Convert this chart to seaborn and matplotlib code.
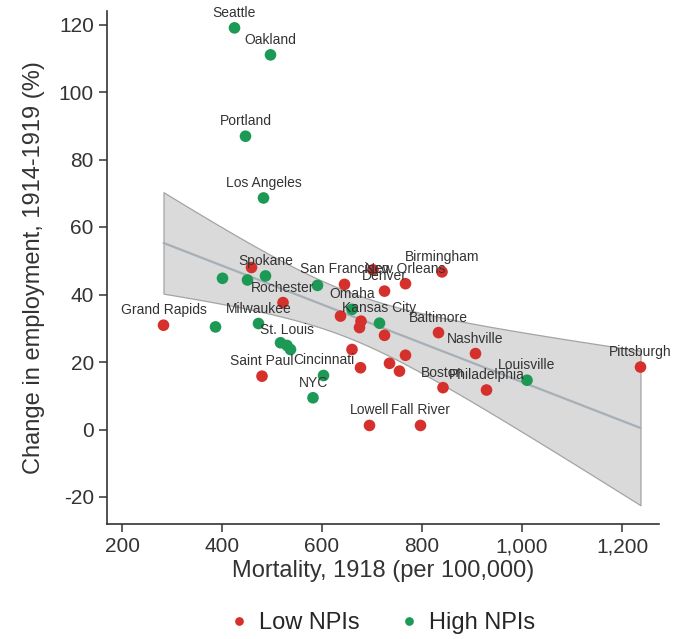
import numpy as np
import pandas as pd
import matplotlib
matplotlib.use("Agg")
import matplotlib.pyplot as plt
import seaborn as sns
from matplotlib.ticker import FuncFormatter

# ---- data ----
cities = [
    "Seattle", "Oakland", "Portland", "Los Angeles", "Spokane", "", "", "",
    "", "Milwaukee", "", "St. Louis", "", "Cincinnati", "NYC", "Omaha",
    "Kansas City", "Louisville",
    "Grand Rapids", "", "Rochester", "Saint Paul", "San Francisco", "",
    "Denver", "New Orleans", "Birmingham", "", "", "", "", "", "", "", "",
    "", "Boston", "Lowell", "Fall River", "Baltimore", "Nashville",
    "Philadelphia", "Pittsburgh",
]
mortality = [
    425, 497, 447, 483, 487, 401, 451, 591,
    387, 473, 517, 530, 537, 603, 582, 660,
    715, 1010,
    283, 459, 522, 480, 645, 702,
    725, 767, 840, 637, 678, 675, 725, 660, 677, 735, 767,
    755, 842, 695, 797, 833, 907,
    929, 1237,
]
emp_change = [
    119, 111, 86.9, 68.6, 45.5, 44.8, 44.3, 42.7,
    30.4, 31.4, 25.7, 24.9, 23.7, 16.0, 9.4, 35.6,
    31.5, 14.6,
    30.9, 48.0, 37.6, 15.8, 43.0, 47.3,
    41.0, 43.2, 46.7, 33.6, 32.1, 30.2, 27.9, 23.7, 18.3, 19.6, 22.0,
    17.3, 12.4, 1.2, 1.2, 28.7, 22.5,
    11.7, 18.5,
]
npi_group = ["High NPIs"] * 18 + ["Low NPIs"] * 25

group_order = ["Low NPIs", "High NPIs"]
x_ticks = [200, 400, 600, 800, 1000, 1200]
y_ticks = [-20, 0, 20, 40, 60, 80, 100, 120]

df = pd.DataFrame({"city": cities, "mortality": mortality,
                   "emp": emp_change, "group": npi_group})

sns.set_theme(style="white")
plt.rcParams["font.family"] = ["Liberation Sans", "DejaVu Sans"]
plt.rcParams["axes.unicode_minus"] = False

W, H = 675, 639
fig = plt.figure(figsize=(W / 100, H / 100), dpi=100)
ax = fig.add_axes([107 / W, 1 - 524 / H, 552 / W, 513 / H])

# OLS fit with analytic 95% confidence band for the mean (like Stata lfitci)
xv = df["mortality"].to_numpy(float)
yv = df["emp"].to_numpy(float)
n = len(xv)
slope, intercept = np.polyfit(xv, yv, 1)
resid = yv - (intercept + slope * xv)
s = np.sqrt(np.sum(resid ** 2) / (n - 2))
xbar = xv.mean()
sxx = np.sum((xv - xbar) ** 2)
grid = np.linspace(xv.min(), xv.max(), 200)
fit = intercept + slope * grid
half = 2.0195 * s * np.sqrt(1.0 / n + (grid - xbar) ** 2 / sxx)
ax.fill_between(grid, fit - half, fit + half, facecolor="#d8d8d8",
                edgecolor="#a0a0a0", linewidth=0.9, alpha=0.95, zorder=1)

sns.regplot(data=df, x="mortality", y="emp", scatter=False, ci=None,
            ax=ax, line_kws=dict(lw=1.6, color="#a7afb6", zorder=2))

sns.scatterplot(data=df, x="mortality", y="emp", hue="group",
                hue_order=group_order,
                palette={"Low NPIs": "#d6302c", "High NPIs": "#1c9a55"},
                s=70, edgecolor="none", ax=ax, zorder=3)

for name, x, y in zip(cities, mortality, emp_change):
    if name:
        ax.annotate(name, (x, y), xytext=(0, 10.8), textcoords="offset points",
                    ha="center", va="center", fontsize=10, color="#333333",
                    zorder=4)

ax.set_xlim(170, 1274)
ax.set_ylim(-28, 124)
ax.set_xticks(x_ticks)
ax.set_yticks(y_ticks)
ax.xaxis.set_major_formatter(FuncFormatter(lambda v, p: f"{int(v):,}"))
ax.set_xlabel("Mortality, 1918 (per 100,000)", fontsize=17, color="#333333",
              labelpad=3)
ax.set_ylabel("Change in employment, 1914-1919 (%)", fontsize=17,
              color="#333333", labelpad=10)
ax.tick_params(axis="both", direction="out", length=6, width=1.1,
               labelsize=15, colors="#333333", bottom=True, left=True)
sns.despine(ax=ax)
for side in ("left", "bottom"):
    ax.spines[side].set_color("#333333")
    ax.spines[side].set_linewidth(1.2)

sns.move_legend(ax, "center", bbox_to_anchor=(0.497, -0.193), ncol=2,
                title=None, frameon=False, fontsize=17, columnspacing=1.6,
                handlelength=1.0, handletextpad=0.35, markerscale=0.75)

fig.savefig("out.png", dpi=100)
